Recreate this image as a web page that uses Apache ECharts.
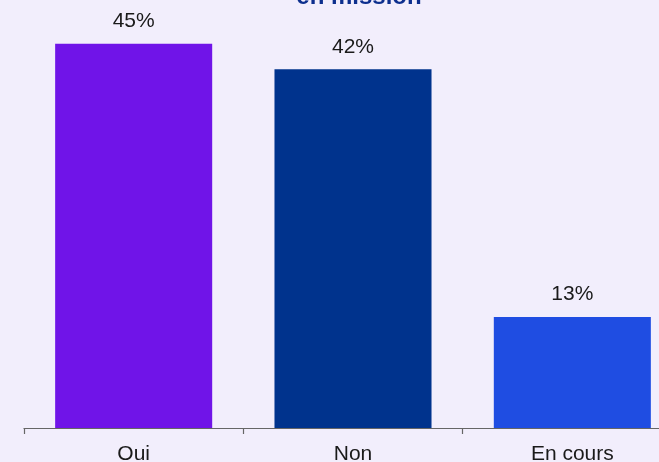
<!DOCTYPE html>
<html>
<head>
<meta charset="utf-8">
<style>
html,body{margin:0;padding:0;background:#f2eefc;}
#chart{width:659px;height:462px;}
</style>
<script src="https://cdn.jsdelivr.net/npm/echarts@6/dist/echarts.min.js"></script>
</head>
<body>
<div id="chart"></div>
<script>
var categories = ["Oui", "Non", "En cours"];
var values = [45, 42, 13];
var barColors = ["#7014e8", "#00338d", "#1f4de2"];
var titleText = "en mission";

var chart = echarts.init(document.getElementById('chart'));
chart.setOption({
  backgroundColor: '#f2eefc',
  animation: false,
  title: {
    text: titleText,
    left: 354,
    top: -20,
    textAlign: 'center',
    textStyle: { fontFamily: 'Liberation Sans, Arial, sans-serif', fontSize: 24, fontWeight: 'bold', color: '#0d2f8e' }
  },
  grid: { left: 24, top: 1, bottom: 34, width: 658, right: -23, containLabel: false, outerBoundsMode: 'none' },
  xAxis: {
    type: 'category',
    data: categories,
    axisLine: { lineStyle: { color: '#666', width: 1.2 } },
    axisTick: { show: true, length: 6, lineStyle: { color: '#666', width: 1.2 } },
    axisLabel: { fontFamily: 'Liberation Sans, Arial, sans-serif', fontSize: 21, color: '#1a1a1a', margin: 16 }
  },
  yAxis: {
    type: 'value', min: 0, max: 50, show: false,
    splitLine: { show: false }
  },
  series: [{
    type: 'bar',
    barWidth: '71.6%',
    data: values.map(function (v, i) { return { value: v, itemStyle: { color: barColors[i] } }; }),
    label: {
      show: true, position: 'top', distance: 12,
      formatter: '{c}%',
      fontFamily: 'Liberation Sans, Arial, sans-serif', fontSize: 21, color: '#1a1a1a'
    }
  }]
});
</script>
</body>
</html>
